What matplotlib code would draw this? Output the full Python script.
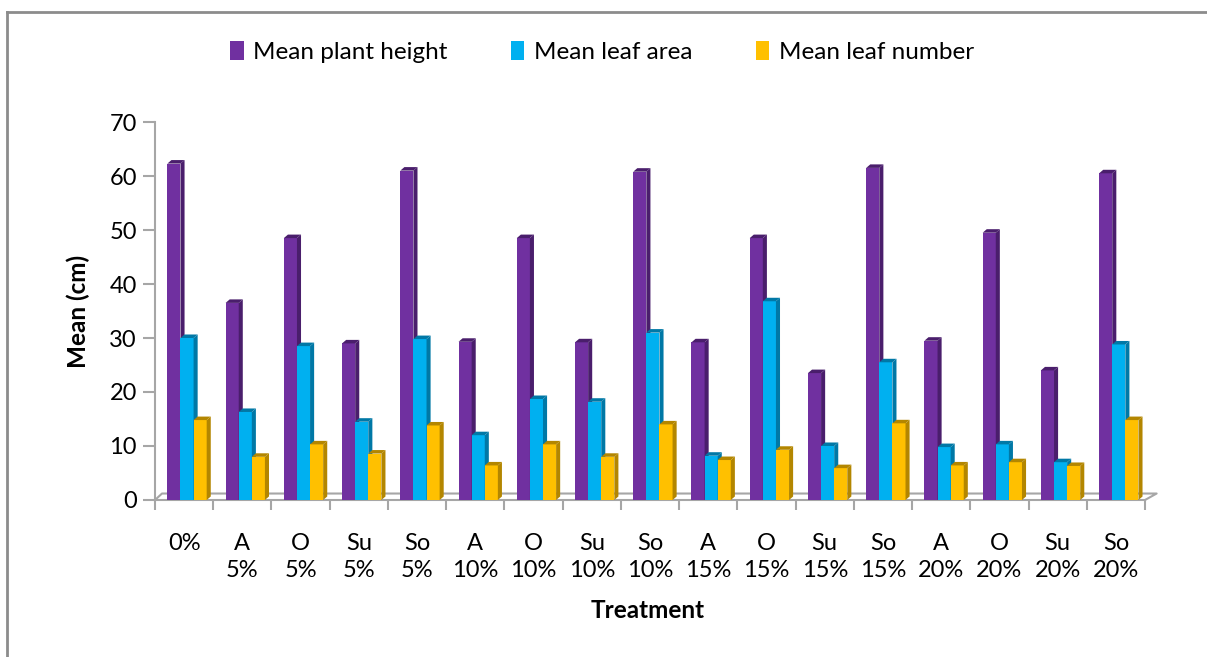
import numpy as np
import matplotlib.pyplot as plt
from matplotlib.patches import Polygon, Patch
from matplotlib.lines import Line2D

plt.rcParams['font.family'] = ['Lato', 'DejaVu Sans']

# Данные
treatments = ['0%', 'A\n5%', 'O\n5%', 'Su\n5%', 'So\n5%', 'A\n10%', 'O\n10%', 'Su\n10%', 'So\n10%',
              'A\n15%', 'O\n15%', 'Su\n15%', 'So\n15%', 'A\n20%', 'O\n20%', 'Su\n20%', 'So\n20%']
plant_height = [62.3, 36.5, 48.5, 29.0, 61.0, 29.3, 48.5, 29.2, 60.8, 29.2, 48.5, 23.5, 61.5, 29.5, 49.5, 24.0, 60.5]
leaf_area = [30.0, 16.3, 28.5, 14.5, 29.8, 12.0, 18.7, 18.2, 31.0, 8.2, 36.8, 10.0, 25.5, 9.8, 10.3, 7.0, 28.8]
leaf_number = [14.8, 8.0, 10.3, 8.6, 13.8, 6.4, 10.3, 8.0, 14.0, 7.4, 9.3, 5.9, 14.2, 6.4, 7.0, 6.3, 14.8]

series = [('Mean plant height', plant_height, '#7030A0', '#4A1E6C'),
          ('Mean leaf area', leaf_area, '#00B0F0', '#0078A6'),
          ('Mean leaf number', leaf_number, '#FFC000', '#B38600')]

fig = plt.figure(figsize=(12.07, 6.57), dpi=100)
ax = fig.add_axes([155 / 1207, 157 / 657, 990 / 1207, 378 / 657])

x = np.arange(len(treatments))
w = 0.225
offsets = [-0.175, 0.05, 0.275]
dx, dy = 0.07, 0.65  # псевдо-3D глубина

# Пол (3D)
fdx, fdy = 0.2, 1.2
ax.plot([-0.5, -0.5 + fdx * 0.6, 16.5 + fdx, 16.5], [0, fdy, fdy, 0], color='#A6A6A6', lw=1.5,
        zorder=1, clip_on=False)

for k, (name, vals, col, dark) in enumerate(series):
    xs = x + offsets[k]
    ax.bar(xs, vals, width=w, color=col, edgecolor='none', zorder=3)
    for xi, v in zip(xs, vals):
        x0, x1 = xi - w / 2, xi + w / 2
        ax.add_patch(Polygon([(x1, 0), (x1 + dx, dy), (x1 + dx, v + dy), (x1, v)],
                             closed=True, facecolor=dark, edgecolor='none', zorder=3))
        ax.add_patch(Polygon([(x0, v), (x0 + dx, v + dy), (x1 + dx, v + dy), (x1, v)],
                             closed=True, facecolor=dark, edgecolor='none', zorder=3))

ax.set_xlim(-0.5, 16.5)
ax.set_ylim(0, 70)
ax.set_yticks(range(0, 71, 10))
ax.set_xticks(x)
ax.set_xticklabels(treatments, fontsize=17, linespacing=1.32, va='top')
ax.set_xticks(np.arange(-0.5, 17, 1), minor=True)
ax.tick_params(axis='x', which='major', length=0, pad=24)
ax.tick_params(axis='x', which='minor', length=7, width=1.5, color='#A6A6A6', direction='out')
ax.tick_params(axis='y', length=9, width=1.5, color='#A6A6A6', labelsize=17, pad=4)

for s in ['top', 'right']:
    ax.spines[s].set_visible(False)
for s in ['left', 'bottom']:
    ax.spines[s].set_color('#A6A6A6')
    ax.spines[s].set_linewidth(1.5)
ax.spines['bottom'].set_zorder(0)

ax.set_ylabel('Mean (cm)', fontsize=17.5, fontweight='bold', labelpad=14)
fig.text(648 / 1207, 1 - 611 / 657, 'Treatment', fontsize=17.5, fontweight='bold', ha='center', va='center')

handles = [Patch(facecolor=c, edgecolor='none', label=n) for n, _, c, _ in series]
fig.legend(handles=handles, loc='center', bbox_to_anchor=(602 / 1207, 1 - 52 / 657), ncol=3,
           frameon=False, fontsize=17.5, handlelength=0.55, handleheight=0.8, handletextpad=0.4,
           columnspacing=2.6)

# Рамка
fig.add_artist(Line2D([7 / 1207, 1.0], [1 - 12 / 657, 1 - 12 / 657], transform=fig.transFigure,
                      color='#8C8C8C', lw=2))
fig.add_artist(Line2D([7 / 1207, 7 / 1207], [0, 1 - 12 / 657], transform=fig.transFigure,
                      color='#8C8C8C', lw=2))

fig.savefig('out.png', dpi=100)
